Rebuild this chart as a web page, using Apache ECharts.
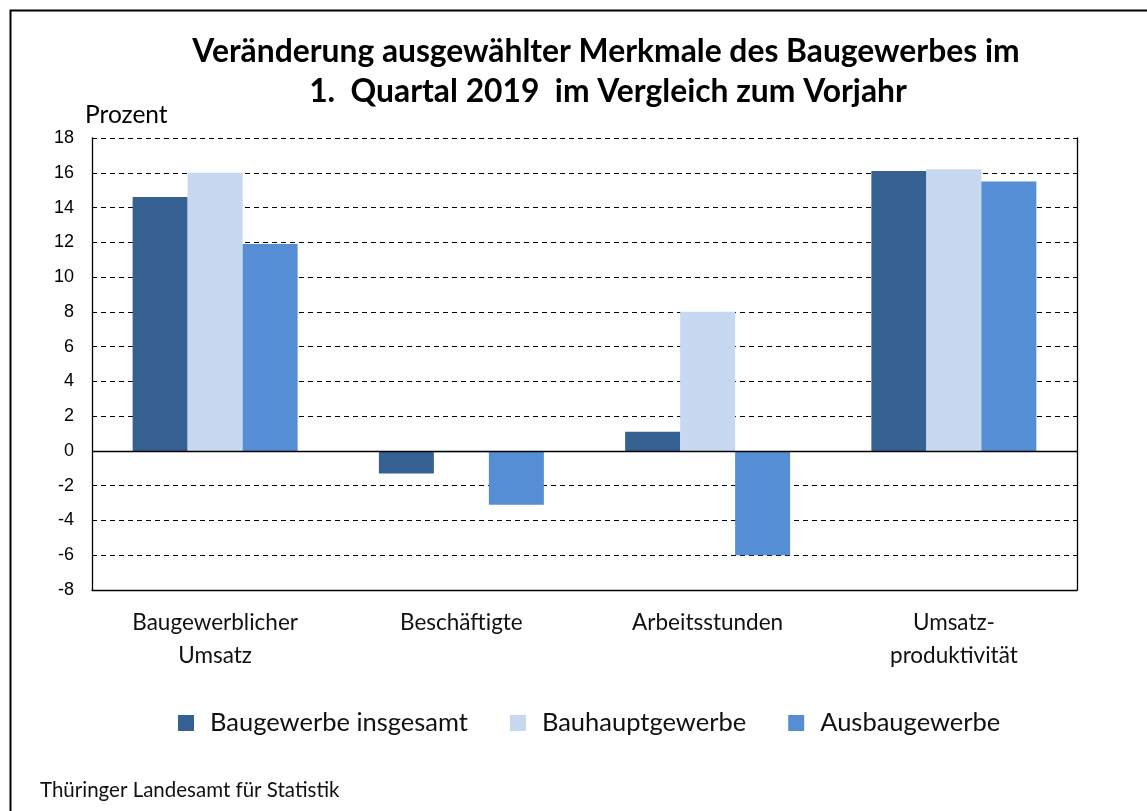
<!DOCTYPE html>
<html><head><meta charset="utf-8">
<script src="https://cdn.jsdelivr.net/npm/echarts@6/dist/echarts.min.js"></script>
<style>html,body{margin:0;padding:0;background:#fff}#c{width:1147px;height:811px}</style>
</head><body><div id="c"></div>
<script>
const categories = ["Baugewerblicher\nUmsatz", "Beschäftigte", "Arbeitsstunden", "Umsatz-\nproduktivität"];
const seriesNames = ["Baugewerbe insgesamt", "Bauhauptgewerbe", "Ausbaugewerbe"];
const baugewerbeInsgesamt = [14.6, -1.3, 1.1, 16.1];
const bauhauptgewerbe = [16.0, -0.1, 8.0, 16.2];
const ausbaugewerbe = [11.9, -3.1, -6.0, 15.5];
const yMin = -8, yMax = 18, yStep = 2;
const titleLines = ["Veränderung ausgewählter Merkmale des Baugewerbes im", "1.  Quartal 2019  im Vergleich zum Vorjahr"];
const unitLabel = "Prozent";
const sourceText = "Thüringer Landesamt für Statistik";
const colors = ["#356092", "#c6d9f0", "#558ed5"];

const chart = echarts.init(document.getElementById('c'), null, {renderer: 'canvas'});
const values = [baugewerbeInsgesamt, bauhauptgewerbe, ausbaugewerbe];
const series = seriesNames.map((n, i) => ({
  name: n, type: 'bar', data: values[i], barGap: '0%', barCategoryGap: '33%',
  itemStyle: {color: colors[i]}, silent: true,
  markLine: i === 0 ? {silent: true, symbol: 'none', label: {show: false},
    lineStyle: {color: '#000', type: 'solid', width: 1.3}, data: [{yAxis: 0}]} : undefined
}));
chart.setOption({
  animation: false,
  grid: {left: 92, right: 70, top: 138, bottom: 221, containLabel: false},
  xAxis: {type: 'category', data: categories, position: 'bottom',
    axisLine: {onZero: false, lineStyle: {color: '#000', width: 1.3}},
    axisTick: {show: false},
    axisLabel: {color: '#111', fontFamily: 'Lato', fontSize: 22.5, lineHeight: 33, margin: 16, interval: 0}},
  yAxis: [{type: 'value', min: yMin, max: yMax, interval: yStep,
    axisLine: {show: true, lineStyle: {color: '#000', width: 1.3}},
    axisTick: {show: false},
    axisLabel: {color: '#000', fontFamily: 'Liberation Sans', fontSize: 18, margin: 18},
    splitLine: {show: true, lineStyle: {color: '#000', type: [5, 4], width: 1}}},
    {type: 'value', min: yMin, max: yMax, interval: yStep, position: 'right',
    axisLine: {show: true, lineStyle: {color: '#000', width: 1.3}},
    axisTick: {show: false}, axisLabel: {show: false}, splitLine: {show: false}}],
  legend: {data: seriesNames, top: 705, left: 173, itemWidth: 16, itemHeight: 16, itemGap: 42,
    icon: 'rect', textStyle: {fontFamily: 'Lato', fontSize: 25.5, color: '#111', padding: [0, 0, 0, 11]}},
  series: series,
  graphic: [
    {type: 'rect', shape: {x: 10.5, y: 10.5, width: 1300, height: 1000}, style: {fill: 'none', stroke: '#000', lineWidth: 2}, z: -1},
    {type: 'text', x: 606, y: 52, style: {text: titleLines[0], font: 'bold 31.8px Lato', fill: '#000', textAlign: 'center', textVerticalAlign: 'middle'}},
    {type: 'text', x: 608, y: 92, style: {text: titleLines[1], font: 'bold 31.8px Lato', fill: '#000', textAlign: 'center', textVerticalAlign: 'middle'}},
    {type: 'text', x: 85, y: 115, style: {text: unitLabel, font: '24.5px Lato', fill: '#000', textAlign: 'left', textVerticalAlign: 'middle'}},
    {type: 'text', x: 40, y: 790, style: {text: sourceText, font: '20.5px Lato', fill: '#111', textAlign: 'left', textVerticalAlign: 'middle'}}
  ]
});
</script></body></html>
